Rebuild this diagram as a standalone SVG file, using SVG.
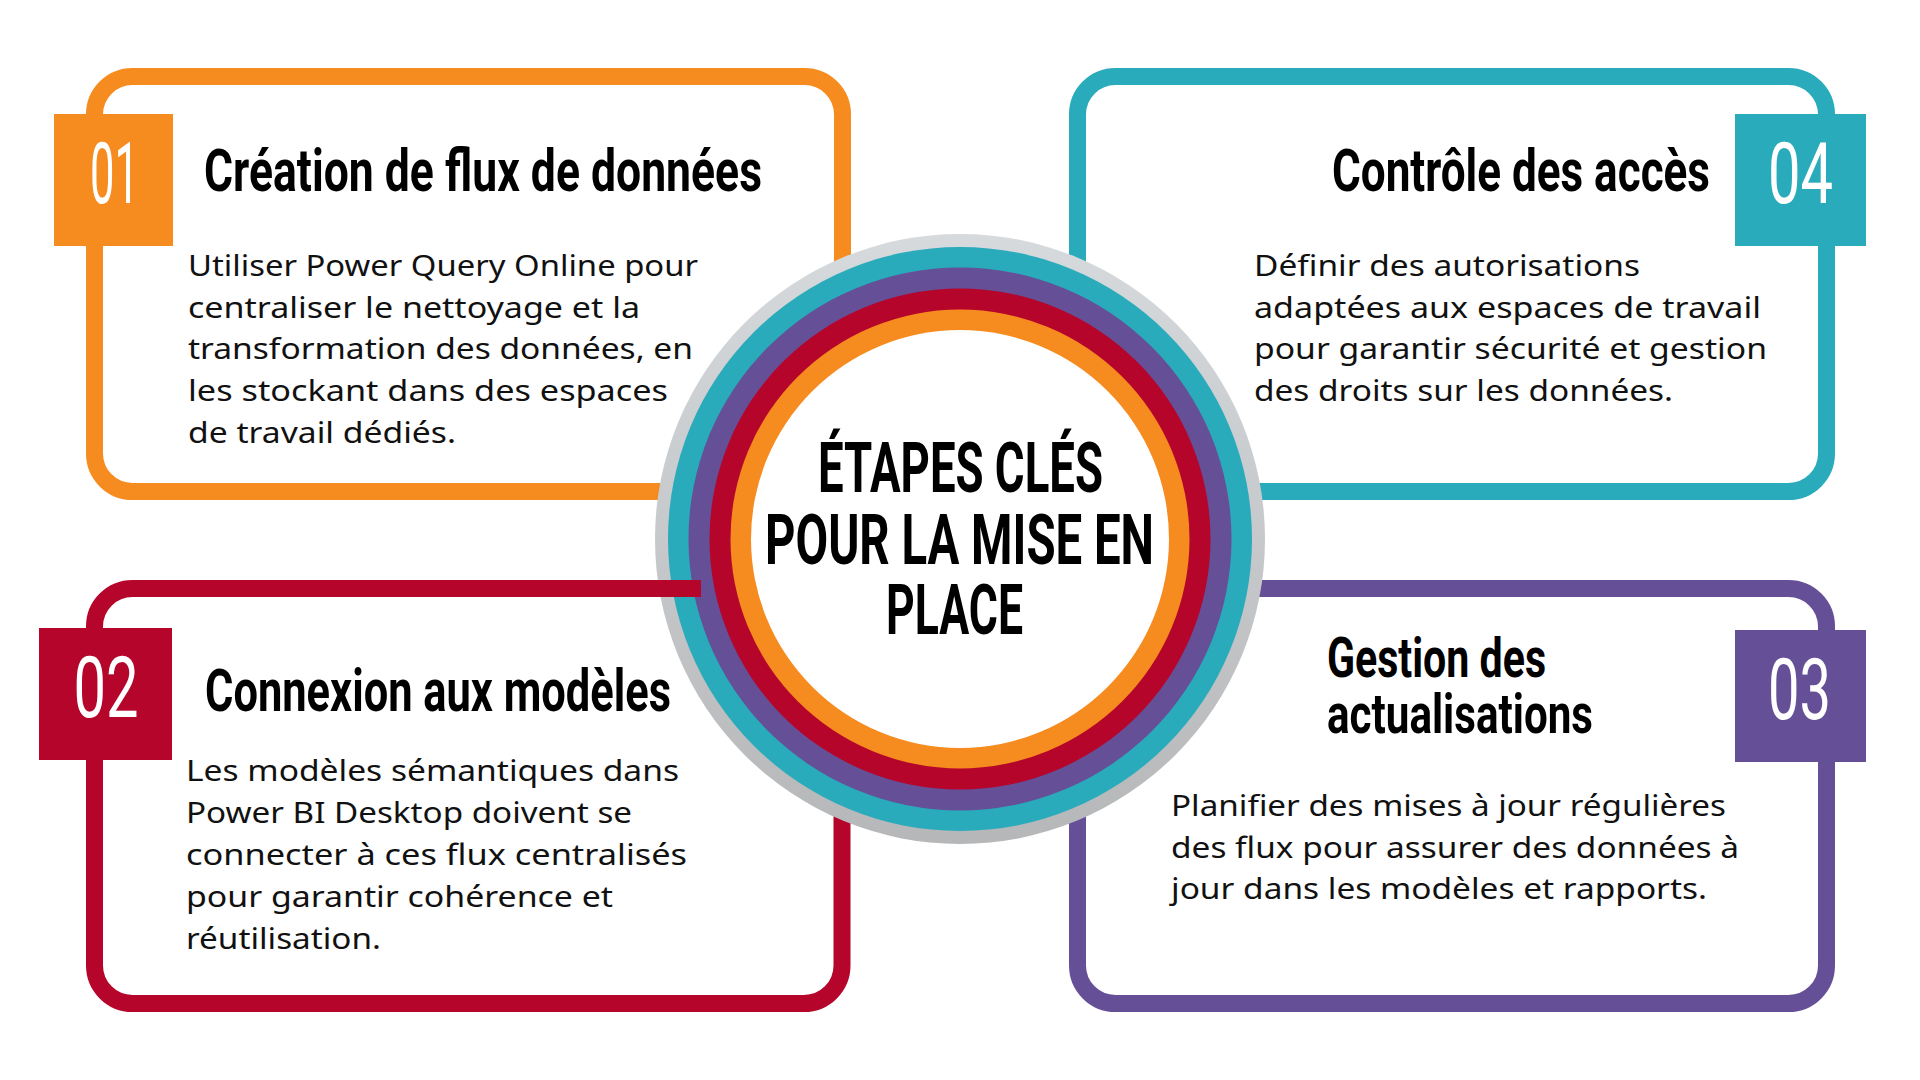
<svg xmlns="http://www.w3.org/2000/svg" width="1920" height="1080" viewBox="0 0 1920 1080">
  <defs>
    <linearGradient id="grayRing" x1="0" y1="0" x2="0" y2="1">
      <stop offset="0" stop-color="#D6DADD"/>
      <stop offset="1" stop-color="#B6B7B9"/>
    </linearGradient>
    <style>
      .frame { fill: #FFFFFF; stroke-width: 17; }
      .title { font-family: 'Liberation Sans Narrow', Roboto, 'Liberation Sans', sans-serif; font-weight: 700; font-size: 60px; fill: #000000; }
      .num { font-family: Roboto, 'Liberation Sans', sans-serif; font-weight: 400; font-size: 86px; fill: #FFFFFF; }
      .body { font-family: 'Noto Sans', 'Open Sans', 'Liberation Sans', sans-serif; font-weight: 400; font-size: 29px; fill: #111111; }
      .hub { font-family: 'Liberation Sans Narrow', Roboto, 'Liberation Sans', sans-serif; font-weight: 700; font-size: 71px; fill: #000000; }
    </style>
  </defs>

  <rect width="1920" height="1080" fill="#FFFFFF"/>

  <!-- Node 01 -->
  <g id="node-01">
    <rect class="frame" x="94.5" y="76.5" width="748" height="415" rx="38" ry="38" stroke="#F68B1F"/>
    <rect x="54" y="114" width="119" height="132" fill="#F68B1F"/>
    <text class="num" x="90" y="203" textLength="49" lengthAdjust="spacingAndGlyphs">01</text>
    <text class="title" x="204" y="191" textLength="558" lengthAdjust="spacingAndGlyphs">Création de flux de données</text>
    <text class="body" x="188" y="276" textLength="510" lengthAdjust="spacingAndGlyphs">Utiliser Power Query Online pour</text>
    <text class="body" x="188" y="317.5" textLength="452" lengthAdjust="spacingAndGlyphs">centraliser le nettoyage et la</text>
    <text class="body" x="188" y="359" textLength="505" lengthAdjust="spacingAndGlyphs">transformation des données, en</text>
    <text class="body" x="188" y="401" textLength="480" lengthAdjust="spacingAndGlyphs">les stockant dans des espaces</text>
    <text class="body" x="188" y="443" textLength="268" lengthAdjust="spacingAndGlyphs">de travail dédiés.</text>
  </g>

  <!-- Node 04 -->
  <g id="node-04">
    <rect class="frame" x="1077.5" y="76.5" width="749" height="415" rx="38" ry="38" stroke="#2AABBB"/>
    <rect x="1735" y="114" width="131" height="132" fill="#2AABBB"/>
    <text class="num" x="1768" y="203" textLength="65" lengthAdjust="spacingAndGlyphs">04</text>
    <text class="title" x="1710" y="191" text-anchor="end" textLength="378" lengthAdjust="spacingAndGlyphs">Contrôle des accès</text>
    <text class="body" x="1254" y="276" textLength="386" lengthAdjust="spacingAndGlyphs">Définir des autorisations</text>
    <text class="body" x="1254" y="317.5" textLength="507" lengthAdjust="spacingAndGlyphs">adaptées aux espaces de travail</text>
    <text class="body" x="1254" y="359" textLength="513" lengthAdjust="spacingAndGlyphs">pour garantir sécurité et gestion</text>
    <text class="body" x="1254" y="401" textLength="419" lengthAdjust="spacingAndGlyphs">des droits sur les données.</text>
  </g>

  <!-- Node 02 -->
  <g id="node-02">
    <rect class="frame" x="94.5" y="588.5" width="747.5" height="415" rx="38" ry="38" stroke="#B5052B"/>
    <rect x="39" y="628" width="133" height="132" fill="#B5052B"/>
    <text class="num" x="73.5" y="717" textLength="65" lengthAdjust="spacingAndGlyphs">02</text>
    <text class="title" x="205" y="711" textLength="466" lengthAdjust="spacingAndGlyphs">Connexion aux modèles</text>
    <text class="body" x="186" y="781" textLength="493" lengthAdjust="spacingAndGlyphs">Les modèles sémantiques dans</text>
    <text class="body" x="186" y="823" textLength="446" lengthAdjust="spacingAndGlyphs">Power BI Desktop doivent se</text>
    <text class="body" x="186" y="865" textLength="501" lengthAdjust="spacingAndGlyphs">connecter à ces flux centralisés</text>
    <text class="body" x="186" y="906.5" textLength="427" lengthAdjust="spacingAndGlyphs">pour garantir cohérence et</text>
    <text class="body" x="186" y="948.5" textLength="195" lengthAdjust="spacingAndGlyphs">réutilisation.</text>
  </g>

  <!-- Node 03 -->
  <g id="node-03">
    <rect class="frame" x="1077.5" y="588.5" width="749" height="415" rx="38" ry="38" stroke="#654F96"/>
    <rect x="1735" y="630" width="131" height="132" fill="#654F96"/>
    <text class="num" x="1768" y="719" textLength="63" lengthAdjust="spacingAndGlyphs">03</text>
    <text class="title" style="font-size:56px" x="1327" y="677" textLength="219" lengthAdjust="spacingAndGlyphs">Gestion des</text>
    <text class="title" style="font-size:56px" x="1327" y="733" textLength="266" lengthAdjust="spacingAndGlyphs">actualisations</text>
    <text class="body" x="1171" y="816" textLength="555" lengthAdjust="spacingAndGlyphs">Planifier des mises à jour régulières</text>
    <text class="body" x="1171" y="857.5" textLength="568" lengthAdjust="spacingAndGlyphs">des flux pour assurer des données à</text>
    <text class="body" x="1171" y="899" textLength="536" lengthAdjust="spacingAndGlyphs">jour dans les modèles et rapports.</text>
  </g>

  <!-- Central hub -->
  <g id="hub">
    <circle cx="960" cy="539" r="305" fill="url(#grayRing)"/>
    <circle cx="960" cy="539" r="292" fill="#2AABBB"/>
    <circle cx="960" cy="539" r="271.5" fill="#654F96"/>
    <circle cx="960" cy="539" r="250.5" fill="#B5052B"/>
    <circle cx="960" cy="539" r="229.5" fill="#F68B1F"/>
    <circle cx="960" cy="539" r="209" fill="#FFFFFF"/>
    <text class="hub" x="960.5" y="492" text-anchor="middle" textLength="285" lengthAdjust="spacingAndGlyphs">ÉTAPES CLÉS</text>
    <text class="hub" x="959.5" y="563.5" text-anchor="middle" textLength="389" lengthAdjust="spacingAndGlyphs">POUR LA MISE EN</text>
    <text class="hub" x="954.5" y="633.5" text-anchor="middle" textLength="137" lengthAdjust="spacingAndGlyphs">PLACE</text>
  </g>

  <!-- Connectors -->
  <g id="connectors">
    <rect x="620" y="580" width="81" height="17" fill="#B5052B"/>
  </g>
</svg>
